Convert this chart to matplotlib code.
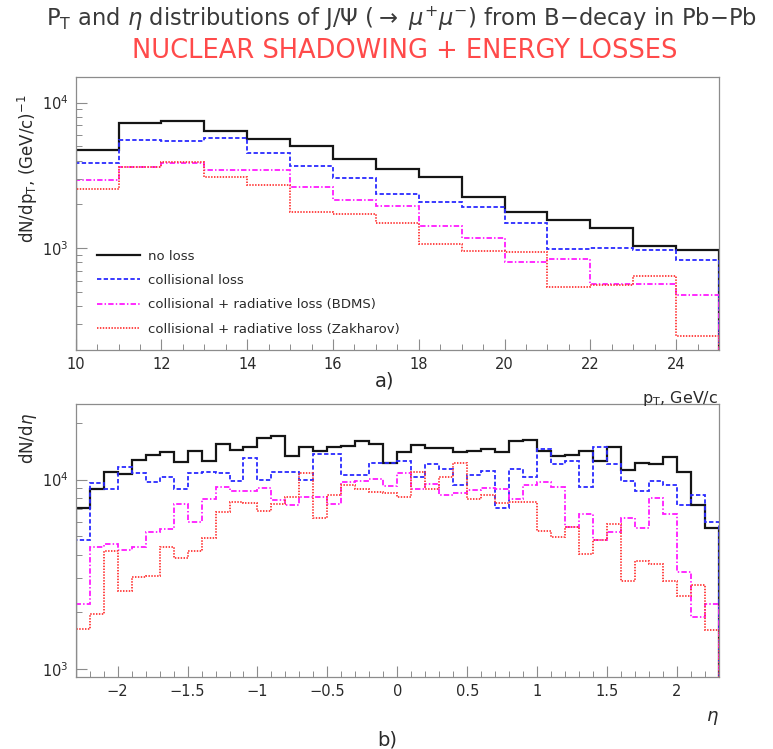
import matplotlib
matplotlib.use('Agg')
import matplotlib.pyplot as plt
from matplotlib.ticker import MultipleLocator, LogLocator, NullFormatter, FuncFormatter
import numpy as np

plt.rcParams['font.family'] = ['DejaVu Sans']
plt.rcParams['mathtext.fontset'] = 'dejavusans'

# pT spectra, 1 GeV/c bins from 10 to 25
pt_edges = np.arange(10, 26, 1)
pt_no_loss = [4710, 7240, 7460, 6340, 5590, 5050, 4080, 3510, 3080, 2250, 1780, 1560, 1380, 1030, 965]
pt_coll = [3820, 5550, 5420, 5690, 4520, 3680, 3030, 2370, 2070, 1920, 1490, 990, 1010, 975, 830]
pt_bdms = [2920, 3600, 3820, 3460, 3420, 2620, 2130, 1940, 1430, 1180, 810, 840, 565, 570, 480]
pt_zakh = [2540, 3630, 3940, 3080, 2710, 1760, 1715, 1490, 1070, 950, 935, 540, 555, 640, 250]

# eta spectra, bins of 0.1 from -2.3 to 2.3
eta_edges = np.round(np.linspace(-2.3, 2.3, 47), 2)
eta_no_loss = [7080, 8950, 10960, 10670, 12650, 13550, 14000, 12390, 14130, 12590,
               15420, 14260, 14860, 16670, 16980, 13400, 14890, 14090, 14890, 14960,
               15920, 15450, 12270, 14060, 15310, 14690, 14660, 13930, 14220, 14490,
               14000, 16000, 16260, 14220, 13340, 13550, 14220, 12530, 14860, 11170,
               12300, 12160, 13120, 11020, 7360, 5560]
eta_coll = [4820, 9640, 8950, 11670, 10810, 9660, 10260, 8910, 10790, 10990,
            10840, 9840, 13030, 10000, 10910, 10990, 10000, 13580, 13580, 10540,
            10540, 12300, 12220, 12530, 10280, 12160, 11430, 9380, 10540, 11140,
            7100, 11430, 10260, 14590, 12160, 12530, 9140, 14860, 12160, 9840,
            8690, 9820, 9380, 7310, 8240, 5930]
eta_bdms = [2200, 4400, 4550, 4260, 4400, 5260, 5500, 7410, 5960, 7940,
            9120, 8750, 8670, 8990, 7800, 7310, 8130, 8130, 7460, 9660,
            9770, 10070, 9230, 10890, 8950, 9440, 8260, 8510, 8810, 9020,
            8910, 7910, 9330, 9660, 9180, 5620, 6610, 4810, 5280, 6270,
            5560, 7980, 6610, 3240, 1880, 2200]
eta_zakh = [1615, 1936, 4190, 2580, 3070, 3080, 4400, 3870, 4200, 4880,
            6750, 7570, 7530, 6820, 7460, 8090, 10810, 6300, 8260, 9380,
            8910, 8610, 8510, 8090, 10960, 8910, 10370, 12270, 7940, 8260,
            7530, 7570, 7570, 5370, 4990, 5620, 4060, 4800, 5820, 2910,
            3690, 3570, 2920, 2430, 2760, 1610]

labels = ['no loss', 'collisional loss',
          'collisional + radiative loss (BDMS)',
          'collisional + radiative loss (Zakharov)']
colors = ['#151515', '#2a2aff', '#ff1aff', '#ff3838']
linestyles = ['-', (0, (2.4, 1.3)), (0, (3.0, 1.2, 0.8, 1.2)), (0, (0.8, 0.8))]
widths = [1.6, 1.3, 1.3, 1.3]

frame_col = '#8c8c8c'
text_col = '#2a2a2a'

fig = plt.figure(figsize=(7.73, 7.49), dpi=100)
ax1 = fig.add_axes([0.0979, 0.5327, 0.8322, 0.3645])
ax2 = fig.add_axes([0.0979, 0.0957, 0.8322, 0.3645])


def draw_hists(ax, edges, series):
    for vals, lab, c, ls, lw in zip(series, labels, colors, linestyles, widths):
        ax.stairs(vals, edges, baseline=1, color=c, linestyle=ls, linewidth=lw, label=lab)


def style_axis(ax):
    ax.set_yscale('log')
    for sp in ax.spines.values():
        sp.set_color(frame_col)
        sp.set_linewidth(0.9)
    ax.tick_params(which='both', direction='in', color=frame_col, top=False, right=False,
                   labelsize=10.5, labelcolor=text_col)
    ax.tick_params(which='major', length=8, width=0.8)
    ax.tick_params(which='minor', length=4, width=0.7)
    ax.tick_params(axis='x', pad=5)
    ax.tick_params(axis='y', pad=5)
    ax.yaxis.set_major_locator(LogLocator(base=10))
    ax.yaxis.set_minor_locator(LogLocator(base=10, subs=np.arange(2, 10)))
    ax.yaxis.set_minor_formatter(NullFormatter())


fmt = FuncFormatter(lambda v, p: ('%g' % v).replace('-', '\u2212'))

# top: pT
draw_hists(ax1, pt_edges, [pt_no_loss, pt_coll, pt_bdms, pt_zakh])
style_axis(ax1)
ax1.set_xlim(10, 25)
ax1.set_ylim(200, 15000)
ax1.xaxis.set_major_locator(MultipleLocator(2))
ax1.xaxis.set_minor_locator(MultipleLocator(0.5))
ax1.xaxis.set_major_formatter(fmt)
ax1.legend(loc='upper left', bbox_to_anchor=(0.033, 0.368), frameon=False,
           fontsize=9.5, handlelength=3.25, handletextpad=0.6, labelspacing=0.86,
           borderpad=0, borderaxespad=0, labelcolor=text_col)

# bottom: eta
draw_hists(ax2, eta_edges, [eta_no_loss, eta_coll, eta_bdms, eta_zakh])
style_axis(ax2)
ax2.set_xlim(-2.3, 2.3)
ax2.set_ylim(900, 25000)
ax2.xaxis.set_major_locator(MultipleLocator(0.5))
ax2.xaxis.set_minor_locator(MultipleLocator(0.1))
ax2.xaxis.set_major_formatter(fmt)

W, H = 773.0, 749.0
fig.text(401 / W, 1 - 19 / H,
         r'P$_{\rm T}$ and $\eta$ distributions of J/$\Psi$ ($\rightarrow$ $\mu^{+}\mu^{-}$) from B$-$decay in Pb$-$Pb',
         ha='center', va='center', fontsize=16.3, color='#3a3a3a')
fig.text(405 / W, 1 - 51 / H, 'NUCLEAR SHADOWING + ENERGY LOSSES',
         ha='center', va='center', fontsize=18.5, color='#ff4a4a')

fig.text(28 / W, 1 - 94 / H, r'dN/dp$_{\rm T}$, (GeV/c)$^{-1}$', rotation=90,
         ha='center', va='top', fontsize=12, color=text_col)
fig.text(28 / W, 1 - 413 / H, r'dN/d$\eta$', rotation=90,
         ha='center', va='top', fontsize=12, color=text_col)

fig.text(718 / W, 1 - 398 / H, r'p$_{\rm T}$, GeV/c', ha='right', va='center',
         fontsize=11.5, color=text_col)
fig.text(712 / W, 1 - 718 / H, r'$\eta$', ha='center', va='center',
         fontsize=13, color=text_col)

fig.text(385 / W, 1 - 381 / H, 'a)', ha='center', va='center', fontsize=14, color=text_col)
fig.text(387 / W, 1 - 740 / H, 'b)', ha='center', va='center', fontsize=14, color=text_col)

fig.savefig('out.png', dpi=100)
